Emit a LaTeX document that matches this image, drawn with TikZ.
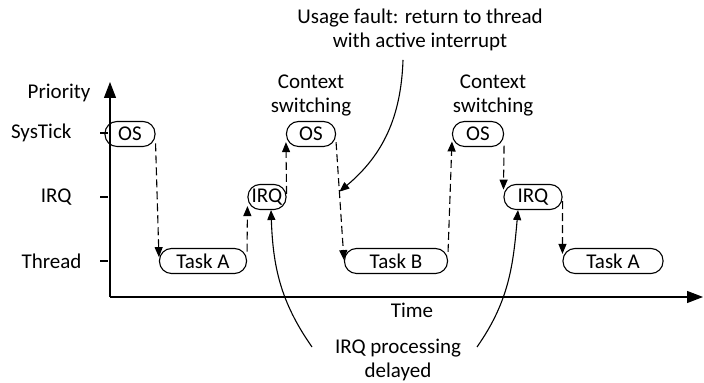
\documentclass[tikz,border=0pt]{standalone}
\usepackage{fontspec}
\setmainfont{Carlito}
\usepackage{tikz}
\usetikzlibrary{
  arrows.meta,
  positioning,
  calc
}

\begin{document}
\begin{tikzpicture}[x=0.5pt, y=0.5pt, font=\fontsize{10.5}{12}\selectfont, line width=0.55pt,
  ctx/.style={draw, rounded corners=6pt, minimum height=12.5pt, inner sep=1pt},
  hop/.style={dash pattern=on 4pt off 2pt, -{Triangle[length=5pt, width=4pt]}},
  note/.style={-{Triangle[length=5pt, width=4pt]}},
  lbl/.style={align=center, inner sep=0pt},
  axis/.style={-{Triangle[length=8pt, width=6pt]}}]
  \useasboundingbox (0,0) rectangle (704,383);

  % axes and priority levels
  \coordinate (origin) at (110,86);
  \coordinate (ytop) at (110,301);
  \coordinate (xend) at (703,86);
  \draw[axis] (origin) -- (ytop);
  \draw[axis] (origin) -- (xend);
  \node[lbl, anchor=east] (prio) at (91,290) {Priority};
  \foreach \y/\name/\r in {250/SysTick/72, 186/IRQ/72, 122/Thread/82}{
    \draw (100,\y) -- (108,\y);
    \node[lbl, anchor=east] (lv\name) at (\r,\y) {\name};
  }

  % what runs when
  \foreach \nm/\x/\y/\w/\txt in {os1/130/249/50/OS, taskA1/203/122/87/Task A, irq1/267/186/38/IRQ,
      os2/311/249/49/OS, taskB/396/122/103/Task B, os3/478/249/51/OS, irq2/533/186/58/IRQ,
      taskA2/613/122/100/Task A}{
    \node[ctx, minimum width={\w*0.5pt}] (\nm) at (\x,\y) {\txt};
  }
  \foreach \a/\b in {os1.-20/taskA1.175, taskA1.12/irq1.205, irq1.9/os2.198, os2.-18/taskB.179,
      taskB.10/os3.196, os3.-24/irq2.166, irq2.-8/taskA2.172}{
    \draw[hop] (\a) -- (\b);
  }

  % annotations
  \node[lbl] (ctxA) at (311,287) {Context\\switching};
  \node[lbl] (ctxB) at (493,287) {Context\\switching};
  \node[lbl] (fault) at (420,353) {Usage fault: return to thread\\with active interrupt};
  \node[lbl] (time) at (412,73) {Time};
  \node[lbl] (delayed) at (398,23) {IRQ processing\\delayed};

  \coordinate (faultfoot) at (403,323);
  \coordinate (hit) at ($(os2.-18)!0.42!(taskB.179)$);
  \draw[note] (faultfoot) to[out=-92, in=40] (hit);
  \coordinate (dl) at (312,36);
  \coordinate (dr) at (477,36);
  \draw[note] (dl) to[out=125, in=-88] ([xshift=2pt]irq1.south);
  \draw[note] (dr) to[out=55, in=-95] ([xshift=-7.5pt]irq2.south);
\end{tikzpicture}
\end{document}
